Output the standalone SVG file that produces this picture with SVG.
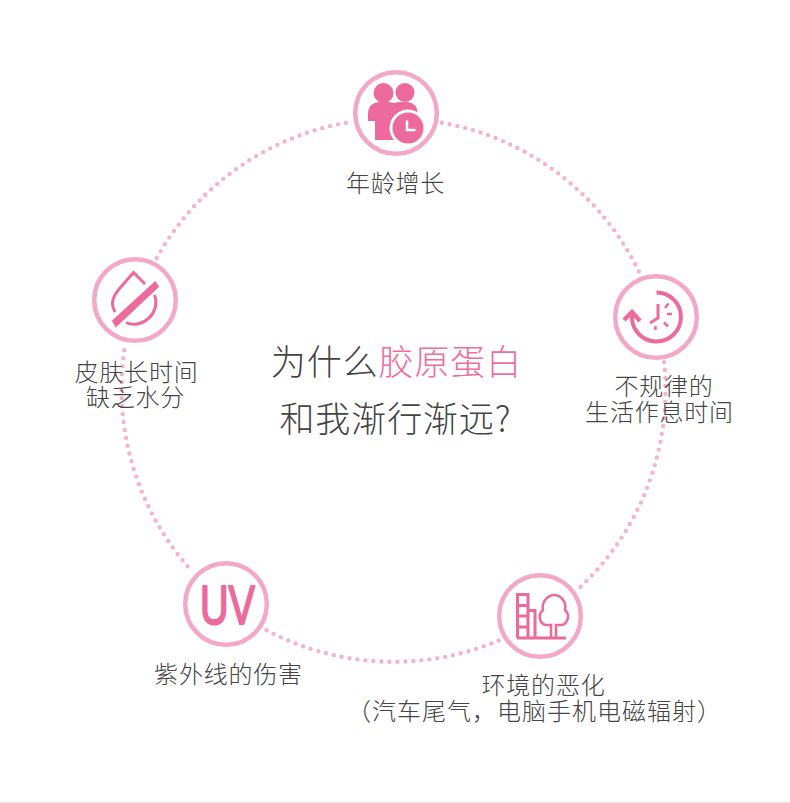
<svg xmlns="http://www.w3.org/2000/svg" width="790" height="803" viewBox="0 0 790 803">
<style>
text{font-family:"Noto Sans CJK SC","Noto Sans",sans-serif;font-weight:300;fill:#444;font-size:24px;text-anchor:middle;letter-spacing:.8px}
.t{font-size:35px;letter-spacing:.9px}
.w{letter-spacing:1px}
.ring{fill:#fff;stroke:#f3a9c6;stroke-width:4.500}
.ic{fill:#ec6a9c}
.ln{fill:none;stroke:#ec6a9c;stroke-width:3}
.dots{fill:none;stroke:#f5b3cc;stroke-width:4.400;stroke-linecap:round;stroke-dasharray:0 8}
</style>
<rect width="790" height="803" fill="#fff"/>
<rect y="801.500" width="790" height="1.500" fill="#ececec"/>
<g id="connectors">
<path class="dots" d="M441.800 122.700A271.500 271.500 0 0 1 640 274"/>
<path class="dots" d="M664.100 362.100A271.500 271.500 0 0 1 576 591"/>
<path class="dots" d="M498.600 640.600A271.500 271.500 0 0 1 266 630"/>
<path class="dots" d="M187.600 566.300A271.500 271.500 0 0 1 125.300 344"/>
<path class="dots" d="M156.700 258A271.500 271.500 0 0 1 352 121.800"/>
</g>
<g id="title">
<text class="t" x="396.500" y="375">为什么<tspan style="fill:#ee6c9e">胶原蛋白</tspan></text>
<text class="t" x="395.500" y="432">和我渐行渐远?</text>
</g>
<g id="node-age">
<circle class="ring" cx="396" cy="113" r="40.800"/>
<circle class="ic" cx="383.500" cy="93" r="10"/>
<circle class="ic" cx="405" cy="92.500" r="9.500"/>
<path class="ic" d="M368 114q0-11 11-12h9q3 0 6 1q3-1 6-1h8q9 1 10 12v8h-22v18h-21v-19h-7z"/>
<circle cx="408" cy="128" r="18.500" fill="#fff"/>
<circle class="ic" cx="408" cy="128" r="15.500"/>
<path d="M407 120.500v9.500h8.500" fill="none" stroke="#fff" stroke-width="2.500"/>
<text x="395.500" y="192">年龄增长</text>
</g>
<g id="node-skin">
<circle class="ring" cx="135" cy="300" r="40.800"/>
<path class="ln" d="M115 312C110 303 113 296 120 288L133.500 272.500L145 284"/>
<path class="ln" d="M154.500 295C161 312 143 330 126 322.500"/>
<path d="M113.500 321L155 283L157.500 286.500L116 325.500z" class="ic" stroke="#ec6a9c" stroke-width="2.500"/>
<text x="136.500" y="381">皮肤长时间</text>
<text x="135.500" y="406">缺乏水分</text>
</g>
<g id="node-time">
<circle class="ring" cx="656" cy="317" r="40.800"/>
<path d="M656.500 292.500A24.500 24.500 0 1 1 632 315" fill="none" stroke="#ec6a9c" stroke-width="4"/>
<path d="M624 320L632 312L640 321" fill="none" stroke="#ec6a9c" stroke-width="4.500"/>
<path class="ln" d="M658 304V318L650 323"/>
<path class="ln" style="stroke-width:2.500" d="M668.500 303.500L665 308M667 314H672M664 322.500L668 326.500M655.500 326V330"/>
<text x="664" y="395">不规律的</text>
<text x="659.500" y="421">生活作息时间</text>
</g>
<g id="node-uv">
<circle class="ring" cx="226" cy="604" r="40.800"/>
<text x="227.500" y="624" textLength="55" lengthAdjust="spacingAndGlyphs" style="font-family:'Liberation Sans',sans-serif;font-size:55px;fill:#ec6a9c;stroke:#ec6a9c;stroke-width:2;stroke-linejoin:round;letter-spacing:0;font-weight:400">UV</text>
<text x="228.500" y="683">紫外线的伤害</text>
</g>
<g id="node-env">
<circle class="ring" cx="540" cy="616" r="40.800"/>
<path class="ln" d="M517.500 638V594.500H528V638M517.500 605.500H528M517.500 616H528M517.500 627H528M528 610.500H535V638M517 638H566"/>
<path class="ln" style="stroke-width:2.500" d="M551 638V625H547C540 625 537 615 543 610C541 601 549 595 554 595C560 595 567 601 565 610C571 615 567 625 561 625H556V638"/>
<text x="543.500" y="694">环境的恶化</text>
<text class="w" x="534.500" y="720">（汽车尾气，电脑手机电磁辐射）</text>
</g>
</svg>
